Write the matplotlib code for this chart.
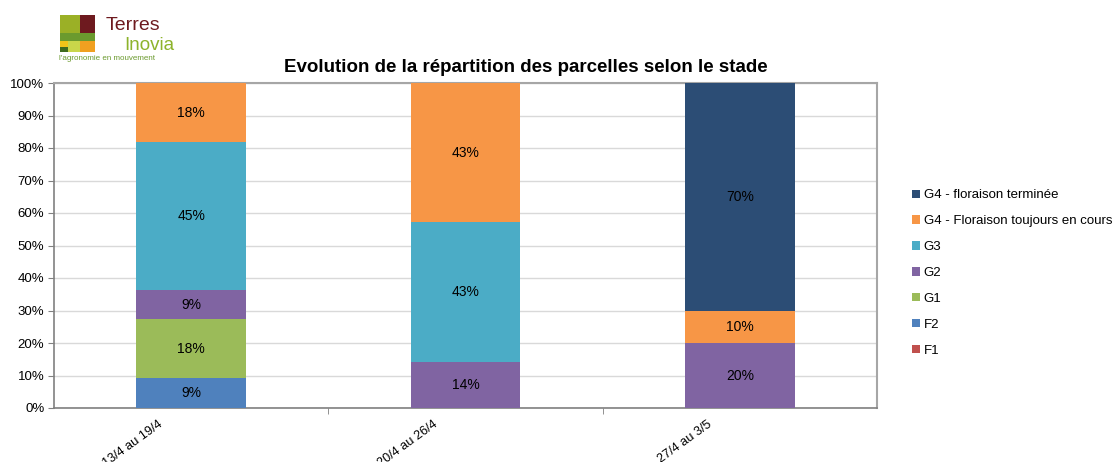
import matplotlib
matplotlib.use("Agg")
import matplotlib.pyplot as plt
import matplotlib.transforms as mtransforms
from matplotlib.patches import Rectangle
import numpy as np

plt.rcParams['font.family'] = ['Liberation Sans', 'DejaVu Sans']

# données
periodes = ['13/4 au 19/4', '20/4 au 26/4', '27/4 au 3/5']
stades = ['F1', 'F2', 'G1', 'G2', 'G3',
          'G4 - Floraison toujours en cours', 'G4 - floraison terminée']
f1 = [0, 0, 0]
f2 = [9.09, 0, 0]
g1 = [18.18, 0, 0]
g2 = [9.09, 14.29, 20]
g3 = [45.45, 42.86, 0]
g4_cours = [18.18, 42.86, 10]
g4_fin = [0, 0, 70]
series = [f1, f2, g1, g2, g3, g4_cours, g4_fin]
couleurs = ['#C0504D', '#4F81BD', '#9BBB59', '#8064A2', '#4BACC6',
            '#F79646', '#2C4D75']

W, H = 1113, 462
fig = plt.figure(figsize=(W / 100, H / 100), dpi=100)
ax = fig.add_axes([54 / W, 1 - 408 / H, (877 - 54) / W, (408 - 83) / H])

x = np.arange(len(periodes))
bas = np.zeros(len(periodes))
for nom, vals, c in zip(stades, series, couleurs):
    vals = np.array(vals, dtype=float)
    ax.bar(x, vals, bottom=bas, width=0.4, color=c, label=nom, zorder=3)
    for xi, v, b0 in zip(x, vals, bas):
        if v > 0:
            ax.text(xi, b0 + v / 2, f'{v:.0f}%', ha='center', va='center',
                    fontsize=10, color='black', zorder=4)
    bas += vals

ax.set_xlim(-0.5, len(periodes) - 0.5)
ax.set_ylim(0, 100)
ax.set_yticks(np.arange(0, 101, 10))
ax.set_yticklabels([f'{v}%' for v in range(0, 101, 10)], fontsize=9.5)
ax.yaxis.grid(True, color='#D9D9D9', linewidth=1, zorder=0)
ax.tick_params(axis='y', length=4, color='#808080', pad=3)

# ticks entre les catégories
ax.set_xticks(x)
ax.set_xticks(np.arange(0.5, len(periodes) - 0.5, 1), minor=True)
ax.tick_params(axis='x', which='major', length=0, pad=6)
ax.tick_params(axis='x', which='minor', length=4, color='#808080')
ax.set_xticklabels(periodes, rotation=36, ha='right', rotation_mode='anchor',
                   fontsize=9.2)
decal = mtransforms.ScaledTranslation(-0.33, -0.02, fig.dpi_scale_trans)
for lab in ax.get_xticklabels():
    lab.set_transform(lab.get_transform() + decal)

for s in ['left', 'bottom']:
    ax.spines[s].set_color('#808080')
    ax.spines[s].set_linewidth(1.2)
for s in ['top', 'right']:
    ax.spines[s].set_color('#A6A6A6')
    ax.spines[s].set_linewidth(1.5)

fig.text(526 / W, 1 - 67 / H, 'Evolution de la répartition des parcelles selon le stade',
         ha='center', va='center', fontsize=13.5, fontweight='bold')

handles, labels = ax.get_legend_handles_labels()
fig.legend(handles[::-1], labels[::-1], loc='center left',
           bbox_to_anchor=(900 / W, 1 - 273 / H), frameon=False,
           fontsize=9.5, handlelength=0.6, handleheight=0.6,
           handletextpad=0.3, labelspacing=1.05)

# logo
lg = fig.add_axes([0, 0, 1, 1], zorder=5)
lg.set_xlim(0, W)
lg.set_ylim(H, 0)
lg.axis('off')
blocs = [
    (60, 15, 20, 18, '#9BB026'),
    (80, 15, 15, 18, '#6E1A1F'),
    (60, 33, 35, 8, '#6B9A2E'),
    (60, 41, 8, 6, '#F2C418'),
    (60, 47, 8, 5, '#3F6B1F'),
    (68, 41, 12, 11, '#C9D64A'),
    (80, 41, 15, 11, '#F0A020'),
]
for bx, by, bw, bh, bc in blocs:
    lg.add_patch(Rectangle((bx, by), bw, bh, color=bc, linewidth=0))
lg.text(106, 25, 'Terres', fontsize=14, color='#6E1A1F', va='center', ha='left')
lg.text(124, 45, 'Inovia', fontsize=13.5, color='#8DB32B', va='center', ha='left')
lg.text(59, 59, "l'agronomie en mouvement", fontsize=5.8, color='#6B9A2E',
        va='center', ha='left')

fig.savefig('out.png', dpi=100)
